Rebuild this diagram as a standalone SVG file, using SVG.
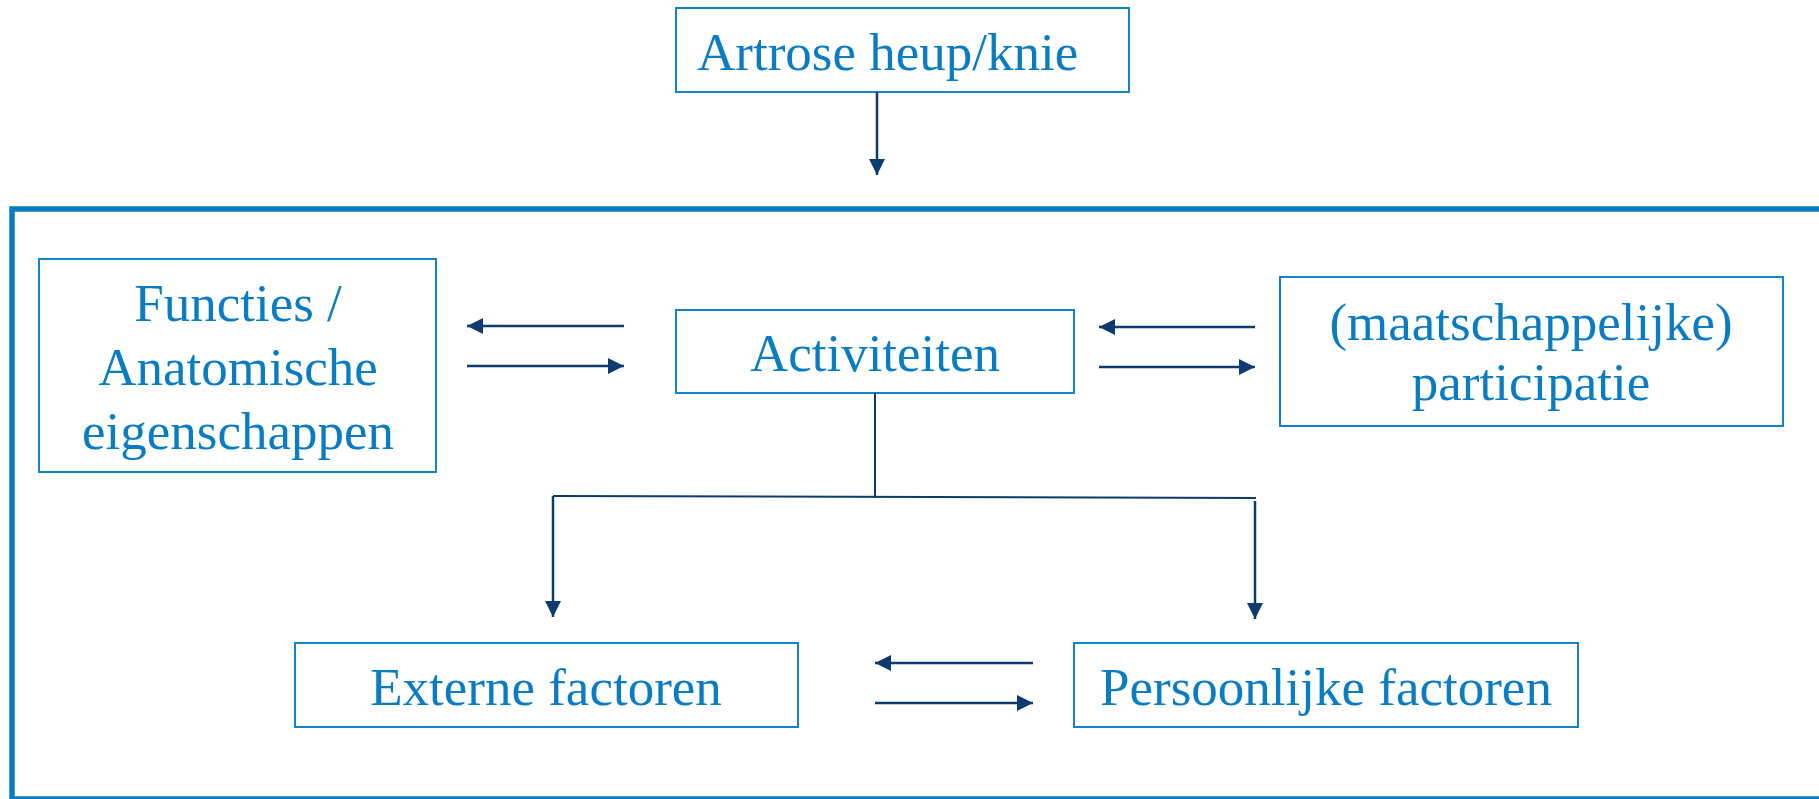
<svg xmlns="http://www.w3.org/2000/svg" width="1819" height="799" viewBox="0 0 1819 799">
<defs>
<marker id="ah" markerWidth="17" markerHeight="16" refX="16" refY="8" orient="auto" markerUnits="userSpaceOnUse">
<path d="M0,0 L16,8 L0,16 z" fill="#0d3b70"/>
</marker>
<style>
.box{fill:#fff;stroke:#1283c8;stroke-width:2}
.t{font-family:"Liberation Serif","Times New Roman",serif;font-size:53px;fill:#0a7cc4;text-anchor:middle}
.c{fill:none;stroke:#0d3b70;stroke-width:2}
.a{fill:none;stroke:#0d3b70;stroke-width:2.5;marker-end:url(#ah)}
</style>
</defs>
<rect x="12" y="209" width="1830" height="590" fill="none" stroke="#0a7bc2" stroke-width="5.5"/>
<g id="artrose">
<rect class="box" x="676" y="8" width="453" height="84"/>
<text class="t" x="697" y="70" style="text-anchor:start">Artrose heup/knie</text>
</g>
<g id="functies">
<rect class="box" x="39" y="259" width="397" height="213"/>
<text class="t" x="238" y="321">Functies /</text>
<text class="t" x="238" y="385">Anatomische</text>
<text class="t" x="238" y="449">eigenschappen</text>
</g>
<g id="activiteiten">
<rect class="box" x="676" y="310" width="398" height="83"/>
<text class="t" x="875" y="371">Activiteiten</text>
</g>
<g id="participatie">
<rect class="box" x="1280" y="277" width="503" height="149"/>
<text class="t" x="1531" y="340">(maatschappelijke)</text>
<text class="t" x="1531" y="400">participatie</text>
</g>
<g id="externe">
<rect class="box" x="295" y="643" width="503" height="84"/>
<text class="t" x="546" y="705">Externe factoren</text>
</g>
<g id="persoonlijke">
<rect class="box" x="1074" y="643" width="504" height="84"/>
<text class="t" x="1326" y="705">Persoonlijke factoren</text>
</g>
<g id="connectors">
<line class="a" x1="877" y1="92" x2="877" y2="175"/>
<line class="a" x1="624" y1="326" x2="467" y2="326"/>
<line class="a" x1="467" y1="366" x2="624" y2="366"/>
<line class="a" x1="1255" y1="327" x2="1099" y2="327"/>
<line class="a" x1="1099" y1="367" x2="1255" y2="367"/>
<line class="c" x1="875" y1="393" x2="875" y2="498"/>
<line class="c" x1="553" y1="496" x2="1256" y2="498"/>
<line class="a" x1="553" y1="496" x2="553" y2="617"/>
<line class="a" x1="1255" y1="501" x2="1255" y2="619"/>
<line class="a" x1="1033" y1="663" x2="875" y2="663"/>
<line class="a" x1="875" y1="703" x2="1033" y2="703"/>
</g>
</svg>
